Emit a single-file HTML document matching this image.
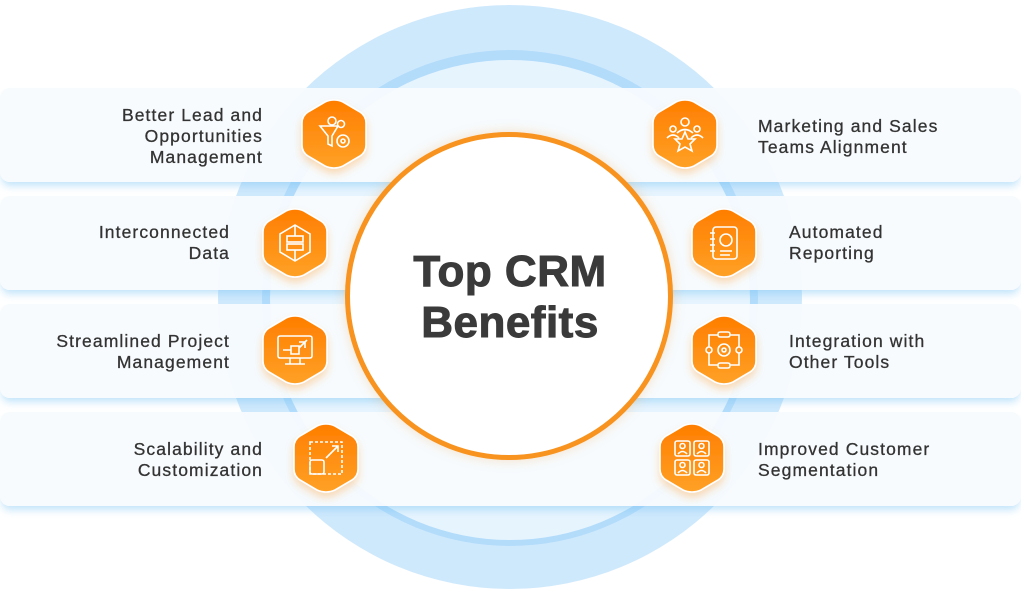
<!DOCTYPE html>
<html><head><style>
body{margin:0;width:1021px;height:597px;overflow:hidden;background:#fff;position:relative;font-family:"Liberation Sans",sans-serif}
.c{position:absolute;border-radius:50%}
.row{position:absolute;left:0;width:1021px;height:94px;background:rgba(248,251,254,0.93);border-radius:10px;box-shadow:0 6px 8px -2px rgba(120,195,245,0.45)}
.t{position:absolute;font-size:17.5px;font-weight:400;color:#333;letter-spacing:1.1px;line-height:21px;-webkit-text-stroke:0.3px #333}
.l{text-align:right}
</style></head><body>
<div class="c" style="left:218px;top:5px;width:584px;height:584px;background:#cfe9fc"></div>
<div class="c" style="left:262px;top:50px;width:496px;height:496px;background:#b3dcfb"></div>
<div class="c" style="left:270px;top:60px;width:480px;height:480px;background:#e6f4fe"></div>

<div class="row" style="top:88px"></div>
<div class="row" style="top:196px"></div>
<div class="row" style="top:304px"></div>
<div class="row" style="top:412px"></div>

<div class="c" style="left:345px;top:132px;width:318px;height:318px;background:#fff;border:5px solid #f7931e;box-shadow:0 0 12px rgba(247,147,30,0.25)"></div>
<div style="position:absolute;left:340px;top:246px;width:340px;text-align:center;font-size:44px;font-weight:700;color:#3a3a3a;line-height:51px;letter-spacing:0.5px;-webkit-text-stroke:1px #3a3a3a">Top CRM<br>Benefits</div>

<div class="t l" style="right:758px;top:105px">Better Lead and<br>Opportunities<br>Management</div>
<div class="t l" style="right:791px;top:222px">Interconnected<br>Data</div>
<div class="t l" style="right:791px;top:331px">Streamlined Project<br>Management</div>
<div class="t l" style="right:758px;top:439px">Scalability and<br>Customization</div>
<div class="t" style="left:758px;top:116px">Marketing and Sales<br>Teams Alignment</div>
<div class="t" style="left:789px;top:222px">Automated<br>Reporting</div>
<div class="t" style="left:789px;top:331px">Integration with<br>Other Tools</div>
<div class="t" style="left:758px;top:439px">Improved Customer<br>Segmentation</div>

<svg width="1021" height="597" style="position:absolute;left:0;top:0">
<defs>
<linearGradient id="g" x1="0" y1="0" x2="0" y2="1"><stop offset="0" stop-color="#ff7e00"/><stop offset="1" stop-color="#ffa126"/></linearGradient>
<filter id="s" x="-30%" y="-30%" width="160%" height="170%"><feDropShadow dx="0" dy="5" stdDeviation="4" flood-color="#ffa030" flood-opacity="0.35"/></filter>
<g id="h"><path d="M0,-34 Q5,-34 9,-32 L26,-22 Q32,-18 32,-11 L32,11 Q32,18 26,22 L9,32 Q0,36 -9,32 L-26,22 Q-32,18 -32,11 L-32,-11 Q-32,-18 -26,-22 L-9,-32 Q-5,-34 0,-34Z" fill="url(#g)" filter="url(#s)"/></g>
</defs>
<g fill="none" stroke="#fff" stroke-width="1.6">
<g transform="translate(334,134)"><use href="#h"/><path d="M-14,-8 L4,-8 L-2,2 L-2,12 L-6,10 L-6,2Z"/><circle cx="-2" cy="-13" r="4"/><circle cx="7" cy="-10" r="3.5"/><circle cx="9" cy="7" r="6"/><circle cx="9" cy="7" r="2"/></g>
<g transform="translate(295,243)"><use href="#h"/><path d="M0,-18 L15,-9 L15,9 L0,18 L-15,9 L-15,-9Z"/><rect x="-8" y="-7" width="16" height="6"/><rect x="-8" y="1" width="16" height="6"/><path d="M0,-18 V-7 M0,7 V18"/></g>
<g transform="translate(295,350)"><use href="#h"/><rect x="-17" y="-14" width="34" height="22" rx="2"/><path d="M-5,8 V14 M5,8 V14 M-10,14 H10 M-12,0 H-4 M-4,-4 h8 v8 h-8z M4,-8 h6 v6 M4,-2 L12,-10"/></g>
<g transform="translate(326,458)"><use href="#h"/><rect x="-16" y="-16" width="32" height="32" stroke-dasharray="3 2"/><rect x="-16" y="2" width="14" height="14" rx="2"/><path d="M0,0 L12,-12 M6,-12 H12 V-6"/></g>
<g transform="translate(685,134)"><use href="#h"/><circle cx="0" cy="-12" r="4"/><circle cx="-12" cy="-5" r="3"/><circle cx="12" cy="-5" r="3"/><path d="M-8,-1 Q0,-8 8,-1 M-18,4 Q-12,-2 -6,4 M6,4 Q12,-2 18,4 M0,-2 L3,5 L10,5 L5,10 L7,17 L0,13 L-7,17 L-5,10 L-10,5 L-3,5Z"/></g>
<g transform="translate(724,243)"><use href="#h"/><rect x="-11" y="-16" width="24" height="32" rx="3"/><path d="M-14,-10 h5 M-14,-4 h5 M-14,2 h5 M-14,8 h5 M-4,8 h12 M-4,12 h10"/><circle cx="2" cy="-3" r="6"/></g>
<g transform="translate(724,350)"><use href="#h"/><rect x="-6" y="-18" width="12" height="5" rx="2"/><rect x="-6" y="13" width="12" height="5" rx="2"/><circle cx="-15" cy="0" r="3"/><circle cx="15" cy="0" r="3"/><circle cx="0" cy="0" r="6"/><circle cx="0" cy="0" r="2"/><path d="M-15,-3 V-15 H-6 M6,-15 H15 V-3 M-15,3 V15 H-6 M6,15 H15 V3"/></g>
<g transform="translate(692,458)"><use href="#h"/><rect x="-17" y="-17" width="15" height="15" rx="2"/><rect x="2" y="-17" width="15" height="15" rx="2"/><rect x="-17" y="2" width="15" height="15" rx="2"/><rect x="2" y="2" width="15" height="15" rx="2"/><circle cx="-9.5" cy="-12" r="2.5"/><circle cx="9.5" cy="-12" r="2.5"/><circle cx="-9.5" cy="7" r="2.5"/><circle cx="9.5" cy="7" r="2.5"/><path d="M-14,-4 Q-9.5,-9 -5,-4 M5,-4 Q9.5,-9 14,-4 M-14,15 Q-9.5,10 -5,15 M5,15 Q9.5,10 14,15"/></g>
</g>
</svg>
</body></html>
